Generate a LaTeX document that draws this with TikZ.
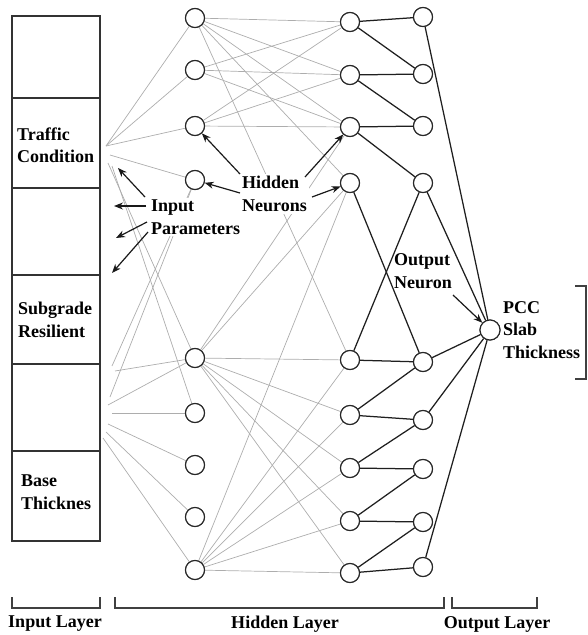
\documentclass[tikz,border=0pt]{standalone}
\usepackage{fontspec}
\setmainfont{Liberation Serif}
\usetikzlibrary{arrows.meta}
\begin{document}
\begin{tikzpicture}[x=1pt,y=-1pt,
  neuron/.style={circle,draw=black!85,line width=1.1pt,fill=white,minimum size=19pt,inner sep=0pt},
  wgt/.style={draw=black!32,line width=0.7pt},
  strong/.style={draw=black!88,line width=1.25pt},
  lbl/.style={font=\bfseries\fontsize{18}{22.5}\selectfont,align=left,inner sep=1pt},
  tag/.style={lbl,fill=white,inner sep=2pt},
  pointer/.style={-{Stealth[length=9pt,width=7pt]},line width=1.2pt,draw=black!90},
  brk/.style={draw=black!75,line width=1.2pt},
  cellline/.style={draw=black!80,line width=1.4pt}]
\useasboundingbox (0,0) rectangle (587,635);

% input column
\draw[cellline] (12,16) rectangle (100,541);
\foreach \y in {98,188,275,364,451} \draw[cellline] (12,\y) -- (100,\y);
\node[lbl,anchor=west] (traffic) at (16,145) {Traffic\\Condition};
\node[lbl,anchor=west] (subgrade) at (17,320) {Subgrade\\Resilient};
\node[lbl,anchor=west] (base) at (20,492) {Base\\Thicknes};

% neurons
\foreach \y [count=\i] in {18,70,126,180,358,413,465,517,570}
  \node[neuron] (h\i) at (195,\y) {};
\foreach \y [count=\i] in {22,75,127,183,360,415,468,521,573}
  \node[neuron] (g\i) at (350,\y) {};
\foreach \y [count=\i] in {17,74,126,183,362,420,469,522,567}
  \node[neuron] (k\i) at (423,\y) {};
\node[neuron,minimum size=20pt] (out) at (490,330) {};

% input anchor points
\coordinate (t1) at (106,146);
\coordinate (t2) at (110,155);
\coordinate (t3) at (108,163);
\coordinate (t4) at (112,166);
\coordinate (b0) at (112,366);
\coordinate (b1) at (115,371);
\coordinate (b2) at (110,397);
\coordinate (b3) at (108,405);
\coordinate (b4) at (112,413);
\coordinate (b5) at (108,424);
\coordinate (b6) at (106,432);
\coordinate (b7) at (103,438);

% input to hidden 1
\foreach \s/\t in {t1/h1,t1/h2,t1/h3,t2/h4,t3/h5,t4/h6,b0/h4,b2/h4,b1/h5,b3/h5,b4/h6,b5/h7,b6/h8,b7/h9}
  \draw[wgt] (\s) -- (\t);
% hidden 1 to hidden 2
\foreach \s/\t in {h1/g1,h1/g2,h1/g3,h1/g4,h1/g5,h2/g1,h2/g2,h2/g3,h3/g1,h3/g2,h3/g3,
  h5/g3,h5/g4,h5/g5,h5/g6,h5/g7,h5/g8,h5/g9,h9/g4,h9/g5,h9/g6,h9/g7,h9/g8,h9/g9}
  \draw[wgt] (\s) -- (\t);

% hidden 2 to hidden 3
\foreach \s/\t in {g1/k1,g1/k2,g2/k2,g2/k3,g3/k3,g3/k4,g4/k5,g5/k4,g5/k5,g6/k5,g6/k6,
  g7/k6,g7/k7,g8/k7,g8/k8,g9/k8,g9/k9}
  \draw[strong] (\s) -- (\t);
% hidden 3 to output
\foreach \s in {k1,k4,k5,k6,k9}
  \draw[strong] (\s) -- (out);

% redraw neurons on top
\foreach \i in {1,...,9} {
  \draw[line width=1.1pt,draw=black!85,fill=white] (h\i) circle (9.5pt);
  \draw[line width=1.1pt,draw=black!85,fill=white] (g\i) circle (9.5pt);
  \draw[line width=1.1pt,draw=black!85,fill=white] (k\i) circle (9.5pt);
}
\draw[line width=1.1pt,draw=black!85,fill=white] (out) circle (10pt);

% labels
\node[tag,anchor=west] (inpar) at (149,217) {Input\\Parameters};
\node[tag,anchor=west] (hidn) at (240,194) {Hidden\\Neurons};
\node[lbl,anchor=west] (outn) at (393,271) {Output\\Neuron};
\node[lbl,anchor=west] (pcc) at (502,330) {PCC\\Slab\\Thickness};

% pointer arrows
\coordinate (p1) at (118,168);
\coordinate (p2) at (114,206);
\coordinate (p3) at (116,238);
\coordinate (p4) at (112,273);
\draw[pointer] (145,197) -- (p1);
\draw[pointer] (146,206) -- (p2);
\draw[pointer] (147,222) -- (p3);
\draw[pointer] (148,232) -- (p4);
\draw[pointer] (240,174) -- (h3);
\draw[pointer] (240,193) -- (h4);
\draw[pointer] (305,177) -- (g3);
\draw[pointer] (312,197) -- (g4);
\draw[pointer] (453,295) -- (out);

% brackets
\draw[brk] (12,597) -- (12,608) -- (100,608) -- (100,597);
\draw[brk] (115,597) -- (115,608) -- (444,608) -- (444,597);
\draw[brk] (452,597) -- (452,608) -- (537,608) -- (537,597);
\draw[brk] (575,286) -- (586,286) -- (586,379) -- (575,379);
\node[lbl] (il) at (55,624) {Input Layer};
\node[lbl] (hl) at (285,624) {Hidden Layer};
\node[lbl] (ol) at (497,624) {Output Layer};
\end{tikzpicture}
\end{document}
